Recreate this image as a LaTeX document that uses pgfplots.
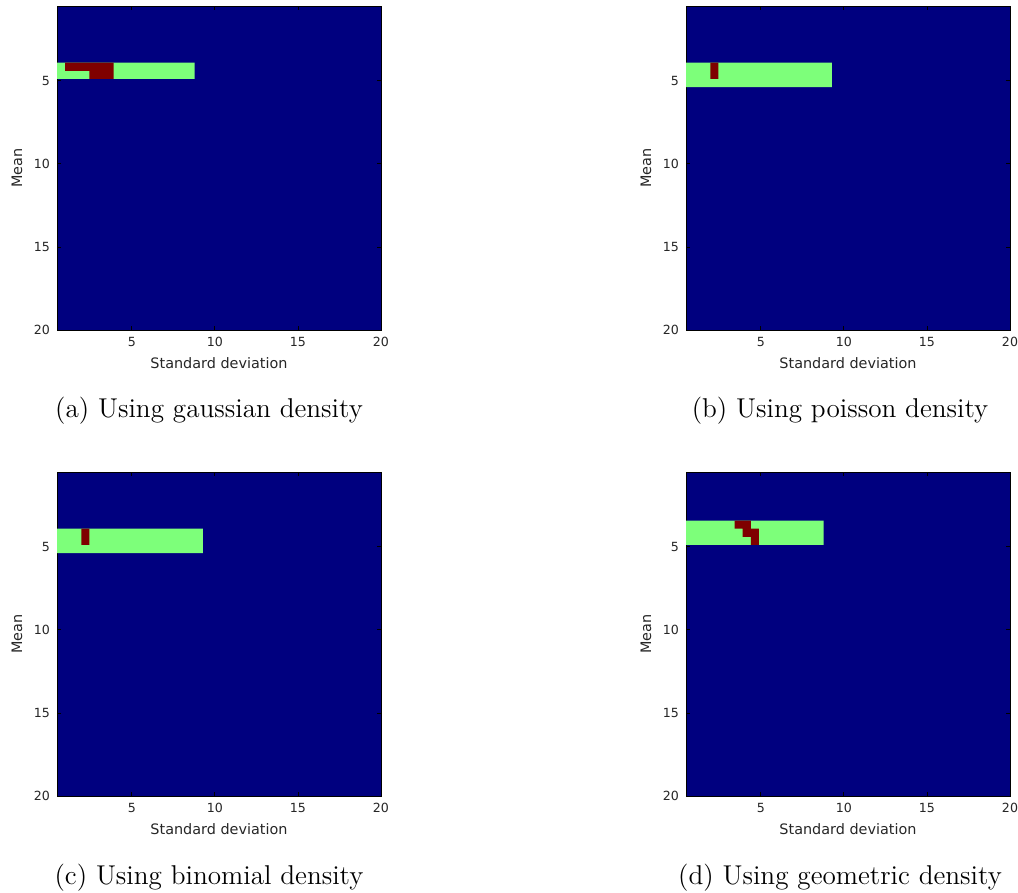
\documentclass[border=0pt]{standalone}
\usepackage{fontspec}
\usepackage{pgfplots}
\pgfplotsset{compat=1.18}
\newfontfamily\dejavu{DejaVu Sans}
\definecolor{jetblue}{RGB}{0,0,127}
\definecolor{jetgreen}{RGB}{125,255,122}
\definecolor{jetred}{RGB}{127,0,0}

\pgfplotsset{
  panel/.style={
    scale only axis,
    width=162pt, height=162pt,
    xmin=0.5, xmax=20, ymin=0.5, ymax=20,
    y dir=reverse,
    enlargelimits=false,
    xtick={5,10,15,20}, ytick={5,10,15,20},
    tick align=inside,
    major tick length=2pt,
    tick style={black, line width=0.4pt},
    axis line style={black, line width=0.5pt},
    axis background/.style={fill=jetblue},
    /pgf/number format/assume math mode=true,
    ticklabel style={font=\dejavu\fontsize{6.3}{7.5}\selectfont, text=black!85},
    label style={font=\dejavu\fontsize{7.2}{8}\selectfont, text=black!85},
    xlabel={Standard deviation},
    ylabel={Mean},
    xlabel style={at={(axis description cs:0.5,-0.102)}, anchor=center},
    ylabel style={at={(axis description cs:-0.1235,0.5)}, anchor=center},
  },
  green/.style={fill=jetgreen, draw=none},
  red/.style={fill=jetred, draw=none},
}

\begin{document}
\begin{tikzpicture}
\path[use as bounding box] (0,0) rectangle (509pt,-446.5pt);

% (a) gaussian
\begin{axis}[panel, at={(28.5pt,-165pt)}, anchor=south west]
\addplot[green] coordinates {(0.5,3.9125) (8.7875,3.9125) (8.7875,4.8875) (0.5,4.8875) (0.5,3.9125)};
\addplot[red] coordinates {(0.9875,3.9125) (3.9125,3.9125) (3.9125,4.8875) (2.45,4.8875) (2.45,4.4) (0.9875,4.4) (0.9875,3.9125)};
\end{axis}

% (b) poisson
\begin{axis}[panel, at={(343pt,-165pt)}, anchor=south west]
\addplot[green] coordinates {(0.5,3.9125) (9.275,3.9125) (9.275,5.375) (0.5,5.375) (0.5,3.9125)};
\addplot[red] coordinates {(1.9625,3.9125) (2.45,3.9125) (2.45,4.8875) (1.9625,4.8875) (1.9625,3.9125)};
\end{axis}

% (c) binomial
\begin{axis}[panel, at={(28.5pt,-398pt)}, anchor=south west]
\addplot[green] coordinates {(0.5,3.9125) (9.275,3.9125) (9.275,5.375) (0.5,5.375) (0.5,3.9125)};
\addplot[red] coordinates {(1.9625,3.9125) (2.45,3.9125) (2.45,4.8875) (1.9625,4.8875) (1.9625,3.9125)};
\end{axis}

% (d) geometric
\begin{axis}[panel, at={(343pt,-398pt)}, anchor=south west]
\addplot[green] coordinates {(0.5,3.425) (8.7875,3.425) (8.7875,4.8875) (0.5,4.8875) (0.5,3.425)};
\addplot[red] coordinates {(3.425,3.425) (4.4,3.425) (4.4,3.9125) (4.8875,3.9125) (4.8875,4.8875) (4.4,4.8875) (4.4,4.4) (3.9125,4.4) (3.9125,3.9125) (3.425,3.9125) (3.425,3.425)};
\end{axis}

\begin{scope}[every node/.style={font=\fontsize{13.6}{15}\selectfont, anchor=base, inner sep=0pt}]
\node at (104.5pt,-208.75pt) {(a) Using gaussian density};
\node at (420pt,-208.75pt) {(b) Using poisson density};
\node at (104.5pt,-442pt) {(c) Using binomial density};
\node at (420pt,-442pt) {(d) Using geometric density};
\end{scope}
\end{tikzpicture}
\end{document}
